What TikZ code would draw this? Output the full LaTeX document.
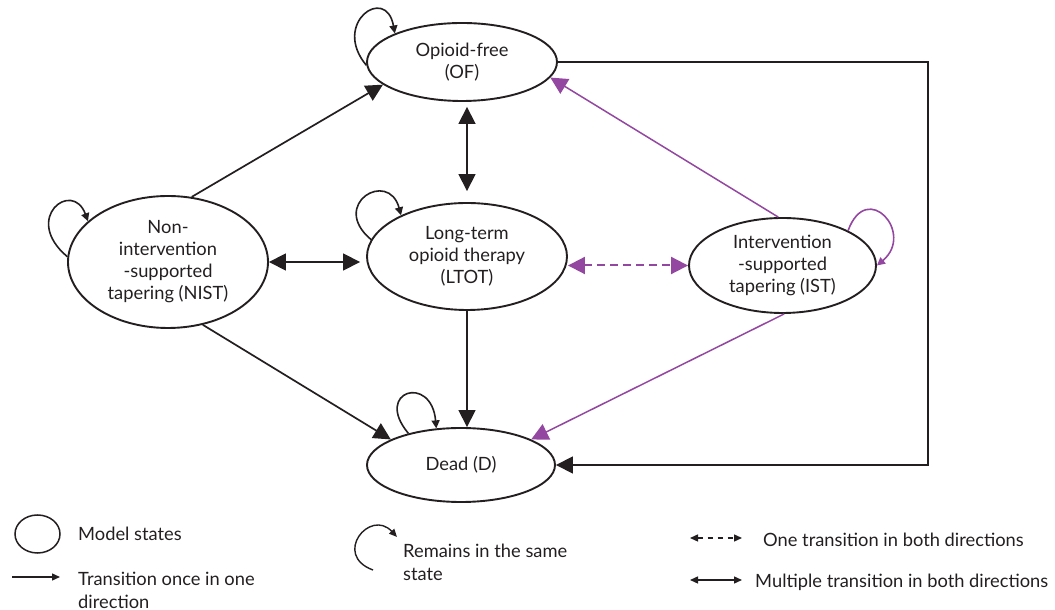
\documentclass[tikz,border=0pt]{standalone}
\usepackage{fontspec}
\setmainfont{Lato}
\usetikzlibrary{arrows.meta,shapes.geometric}
\definecolor{ink}{HTML}{231F20}
\definecolor{tapercol}{HTML}{9347A0}
\begin{document}
\begin{tikzpicture}[x=1pt,y=1pt,
  txt/.style={text=ink,font=\fontsize{18.3}{22}\selectfont},
  state/.style={ellipse,draw=ink,line width=1.9pt,inner sep=0pt,align=center,txt},
  bigtip/.tip={Triangle[length=17pt,width=17pt]},
  looptip/.tip={Triangle[length=8pt,width=8pt]},
  keytip/.tip={Triangle[length=8pt,width=7pt]},
  tr/.style={draw=ink,line width=1.7pt,-bigtip},
  both/.style={draw=ink,line width=1.7pt,bigtip-bigtip},
  ptr/.style={draw=tapercol,line width=1.5pt,-bigtip,tapercol},
  pdash/.style={draw=tapercol,line width=2pt,dash pattern=on 8pt off 5pt,bigtip-bigtip,tapercol},
  selfloop/.style={draw=ink,line width=1.6pt,-looptip},
  pselfloop/.style={draw=tapercol,line width=1.6pt,-looptip,tapercol},
  keyline/.style={draw=ink,line width=1.4pt},
  keytext/.style={txt,anchor=west,align=left,inner sep=0pt,font=\fontsize{18.3}{23}\selectfont}
]
\useasboundingbox (0,0) rectangle (1055,610);

% states
\node[state,minimum width=190pt,minimum height=78pt]  (OF)   at (462,548)   {Opioid-free\\(OF)};
\node[state,minimum width=200pt,minimum height=107pt] (LTOT) at (467,353.5) {Long-term\\opioid therapy\\(LTOT)};
\node[state,minimum width=200pt,minimum height=132pt] (NIST) at (168,348)   {Non-\\intervention\\-supported\\tapering (NIST)};
\node[state,minimum width=187pt,minimum height=95pt]  (IST)  at (782.5,344.5) {Intervention\\-supported\\tapering (IST)};
\node[state,minimum width=188pt,minimum height=74pt]  (D)    at (461,145)   {Dead (D)};

% transitions
\draw[tr] (NIST.70) -- (OF.196);
\draw[both,shorten <=5pt,shorten >=11pt] (LTOT.north |- OF.south) -- (LTOT.north);
\draw[both,shorten >=6pt] (NIST.east) -- (NIST.east -| LTOT.west);
\draw[pdash] (IST.west -| LTOT.east) -- (IST.west);
\draw[tr] (LTOT.south) -- (LTOT.south |- D.north);
\draw[tr] (NIST.299) -- (D.160.6);
\draw[ptr] (IST.95) -- (OF.350);
\draw[ptr] (IST.272) -- (D.20);
\coordinate (rt) at (928,300);
\draw[tr] (OF.east) -- (OF.east -| rt) -- (D.east -| rt) -- (D.east);

% remaining in the same state
\draw[selfloop] (OF.182) .. controls +(130:55) and +(100:50) .. (OF.157);
\draw[selfloop] (NIST.177) .. controls +(140:60) and +(110:45) .. (NIST.153);
\draw[selfloop] (LTOT.170) .. controls +(140:55) and +(105:48) .. (LTOT.148);
\draw[selfloop] (D.149) .. controls +(130:55) and +(95:55) .. (D.124);
\draw[pselfloop] (IST.28) .. controls +(70:55) and +(40:50) .. (IST.0);

% key
\node[ellipse,draw=ink,line width=1.5pt,minimum width=45pt,minimum height=38pt,inner sep=0pt] (keystate) at (37.5,76) {};
\node[keytext] (keystatetxt) at (78,76) {Model states};

\coordinate (k1a) at (12,33);
\coordinate (k1b) at (60,33);
\draw[keyline,-keytip] (k1a) -- (k1b);
\node[keytext] (k1txt) at (78,20) {Transition once in one\\direction};

\coordinate (kla) at (373,40);
\coordinate (klb) at (397,73);
\draw[keyline,-keytip] (kla) .. controls (332,55) and (370,102) .. (klb);
\node[keytext] (kltxt) at (403,47.5) {Remains in the same\\state};

\coordinate (k2a) at (690,72);
\coordinate (k2b) at (742,72);
\draw[keyline,dash pattern=on 5pt off 5pt,keytip-keytip] (k2a) -- (k2b);
\node[keytext] (k2txt) at (763,70) {One transition in both directions};

\coordinate (k3a) at (690,30);
\coordinate (k3b) at (742,30);
\draw[keyline,keytip-keytip] (k3a) -- (k3b);
\node[keytext] (k3txt) at (755,28) {Multiple transition in both directions};
\end{tikzpicture}
\end{document}
